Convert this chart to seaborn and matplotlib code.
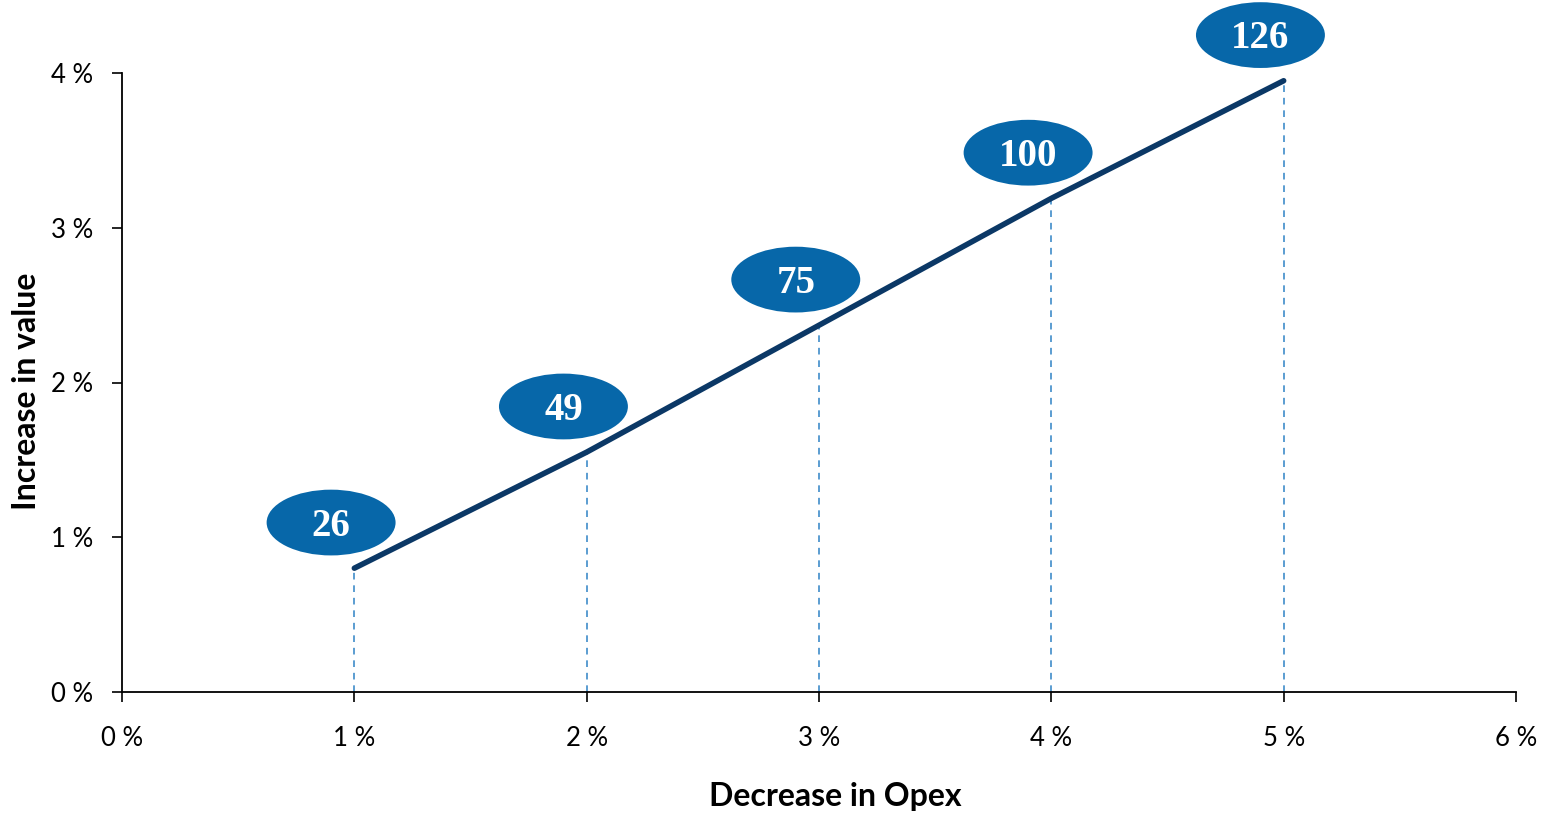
import matplotlib
matplotlib.use("Agg")
import matplotlib.pyplot as plt
from matplotlib.patches import Ellipse
from matplotlib.ticker import FuncFormatter
import seaborn as sns
import pandas as pd

# Sensitivity of value to operating-expense reductions
opex_decrease = [1, 2, 3, 4, 5]            # % decrease in Opex
value_increase = [0.80, 1.55, 2.37, 3.19, 3.95]  # % increase in value
value_labels = ["26", "49", "75", "100", "126"]

x_ticks = [0, 1, 2, 3, 4, 5, 6]
y_ticks = [0, 1, 2, 3, 4]

NAVY = "#0b3866"
BUBBLE = "#0767a9"
GUIDE = "#3f8cca"

df = pd.DataFrame({"opex": opex_decrease, "value": value_increase})

sns.set_style("ticks")
plt.rcParams["font.family"] = ["Lato", "DejaVu Sans"]

fig = plt.figure(figsize=(15.44, 8.17), dpi=100)
ax = fig.add_axes([122 / 1544, 1 - 692 / 817, (1516 - 122) / 1544, (692 - 73) / 817])

# dashed guides from each point down to the axis
ax.vlines(df["opex"], 0, df["value"], colors=GUIDE, linestyles=(0, (4, 3.5)),
          linewidth=1.2, zorder=1)

sns.lineplot(data=df, x="opex", y="value", ax=ax, color=NAVY, linewidth=4.0,
             solid_capstyle="round", zorder=3)

# value bubbles above the line
bubble_dx, bubble_dy = -0.10, 0.295
bubble_w, bubble_h = 0.555, 0.425
for xv, yv, lab in zip(opex_decrease, value_increase, value_labels):
    cx, cy = xv + bubble_dx, yv + bubble_dy
    ax.add_patch(Ellipse((cx, cy), bubble_w, bubble_h, facecolor=BUBBLE,
                         edgecolor="none", clip_on=False, zorder=4))
    ax.text(cx, cy - 0.025, lab, ha="center", va="center", color="white",
            fontsize=28, fontweight="bold", family=["Liberation Serif", "DejaVu Serif"],
            zorder=5, clip_on=False)

ax.set_xlim(0, 6)
ax.set_ylim(0, 4)
ax.set_xticks(x_ticks)
ax.set_yticks(y_ticks)
pct = FuncFormatter(lambda v, _: f"{v:.0f} %")
ax.xaxis.set_major_formatter(pct)
ax.yaxis.set_major_formatter(pct)

for side in ["top", "right"]:
    ax.spines[side].set_visible(False)
for side in ["left", "bottom"]:
    ax.spines[side].set_linewidth(1.3)
    ax.spines[side].set_color("black")

ax.tick_params(axis="both", direction="out", length=7.5, width=1.2,
               colors="black", labelsize=18.5)
ax.tick_params(axis="x", pad=17)
ax.tick_params(axis="y", pad=13)

ax.set_xlabel("Decrease in Opex", fontsize=23, fontweight="bold", color="black")
ax.set_ylabel("Increase in value", fontsize=23, fontweight="bold", color="black")
ax.xaxis.set_label_coords(0.512, -0.145)
ax.yaxis.set_label_coords(-0.058, 0.485)

fig.savefig("out.png", dpi=100)
